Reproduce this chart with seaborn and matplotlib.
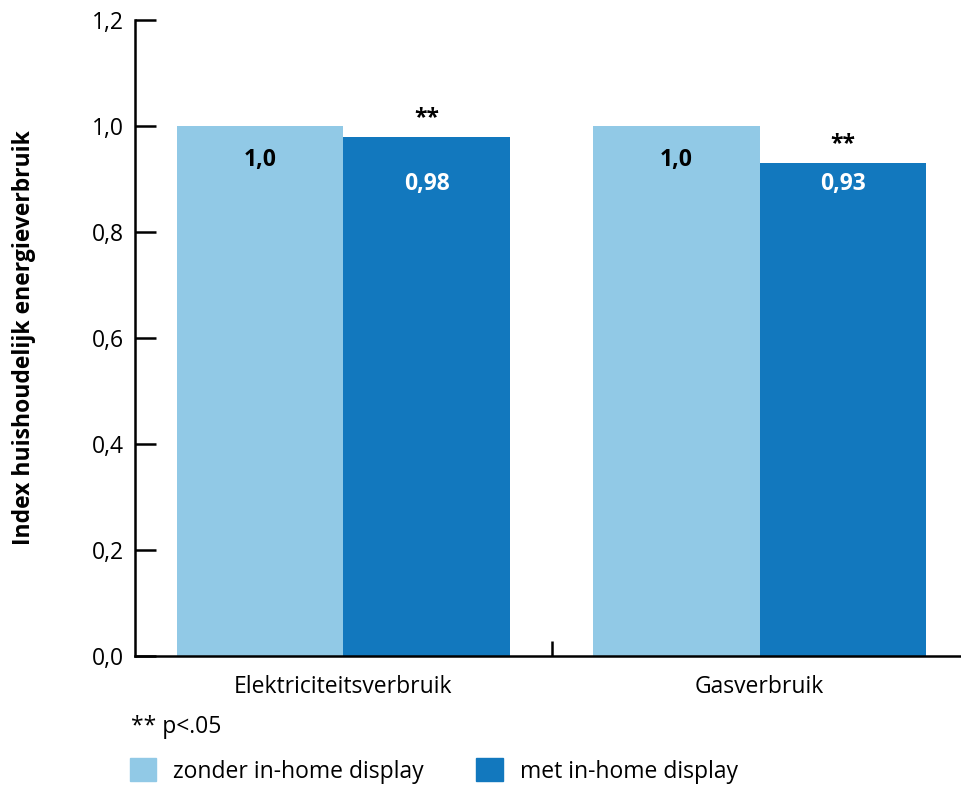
import matplotlib
matplotlib.use("Agg")
import matplotlib.pyplot as plt
import matplotlib.patches as mpatches
import pandas as pd
import seaborn as sns

# data
categories = ["Elektriciteitsverbruik", "Gasverbruik"]
groups = ["zonder in-home display", "met in-home display"]
zonder = [1.0, 1.0]
met = [0.98, 0.93]
zonder_labels = ["1,0", "1,0"]
met_labels = ["0,98", "0,93"]
met_sign = ["**", "**"]
y_ticks = [0.0, 0.2, 0.4, 0.6, 0.8, 1.0, 1.2]
y_ticklabels = ["0,0", "0,2", "0,4", "0,6", "0,8", "1,0", "1,2"]

LIGHT = "#91c9e6"
DARK = "#1278be"
FS = 16.5

sns.set_theme(style="white")
plt.rcParams["font.family"] = ["Open Sans", "DejaVu Sans"]
plt.rcParams["text.color"] = "black"

df = pd.DataFrame({
    "verbruik": categories * 2,
    "index": zonder + met,
    "groep": [groups[0]] * 2 + [groups[1]] * 2,
})

fig = plt.figure(figsize=(9.62, 7.87), dpi=100)
ax = fig.add_axes([135 / 962, 1 - 656 / 787, 833 / 962, 636 / 787])

sns.barplot(
    data=df, x="verbruik", y="index", hue="groep",
    order=categories, hue_order=groups,
    palette=[LIGHT, DARK], saturation=1, width=0.8,
    linewidth=0, edgecolor="none",
    legend=False, ax=ax,
)

ax.set_xlim(-0.5, 1.5)
ax.set_ylim(0, 1.2)
ax.set_yticks(y_ticks)
ax.set_yticklabels(y_ticklabels, fontsize=FS)
ax.set_xticks(range(len(categories)))
ax.set_xticklabels(categories, fontsize=FS)
ax.set_xticks([0.5], minor=True)
ax.tick_params(axis="y", left=True, direction="in", length=15, width=1.8,
               color="black", labelcolor="black", pad=8)
ax.tick_params(axis="x", which="major", bottom=True, length=0, pad=14, labelcolor="black")
ax.tick_params(axis="x", which="minor", bottom=True, direction="in", length=11,
               width=1.8, color="black")
ax.set_xlabel("")
ax.set_ylabel("Index huishoudelijk energieverbruik", fontsize=FS, fontweight="bold",
              labelpad=40, color="black")

for side in ["top", "right"]:
    ax.spines[side].set_visible(False)
for side in ["left", "bottom"]:
    ax.spines[side].set_linewidth(1.8)
    ax.spines[side].set_color("black")

# value labels
label_y = [0.936, 0.89]
for i, (cont, labels, col) in enumerate(zip(ax.containers, [zonder_labels, met_labels], ["black", "white"])):
    for bar, lab in zip(cont, labels):
        cx = bar.get_x() + bar.get_width() / 2
        ax.text(cx, label_y[i], lab, ha="center", va="center",
                fontsize=FS, fontweight="bold", color=col)

for bar, s in zip(ax.containers[1], met_sign):
    cx = bar.get_x() + bar.get_width() / 2
    ax.text(cx, bar.get_height() + 0.035, s, ha="center", va="center",
            fontsize=FS, fontweight="bold", color="black")

# footnote + legend
fig.text(131 / 962, 1 - 727 / 787, "** p<.05", fontsize=FS, va="center", ha="left")
handles = [mpatches.Patch(color=LIGHT, label=groups[0]),
           mpatches.Patch(color=DARK, label=groups[1])]
fig.legend(handles=handles, loc="center left", bbox_to_anchor=(125 / 962, 1 - 771 / 787),
           ncol=2, frameon=False, fontsize=FS, handlelength=1.15, handleheight=1.15,
           columnspacing=2.3, handletextpad=0.75, borderaxespad=0, borderpad=0.2,
           labelcolor="black")

plt.savefig("out.png", dpi=100)
